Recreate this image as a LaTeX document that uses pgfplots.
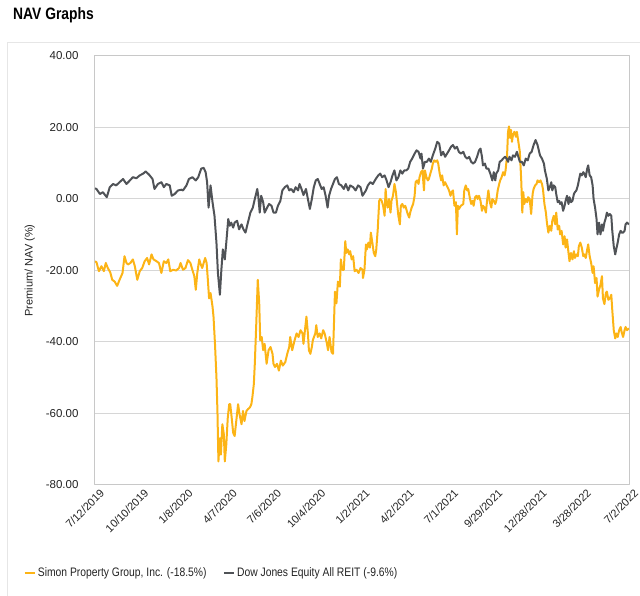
\documentclass[border=0pt]{standalone}
\usepackage{pgfplots}
\pgfplotsset{compat=1.18}
\usepackage{fontspec}
\setmainfont{Liberation Sans}
\newfontfamily\condfont{Liberation Sans}[FakeStretch=0.84]
\definecolor{spgold}{RGB}{252,180,22}
\definecolor{spgray}{RGB}{80,83,87}
\definecolor{gridc}{RGB}{214,214,214}
\definecolor{framec}{RGB}{200,200,200}
\definecolor{panelc}{RGB}{230,230,230}
\definecolor{txt}{RGB}{35,35,35}
\begin{document}
\begin{tikzpicture}
\useasboundingbox (0pt,0pt) rectangle (640pt,596pt);
\draw[panelc, line width=1pt] (7.5pt,0pt) -- (7.5pt,553pt) -- (640pt,553pt);
\node[anchor=base west, inner sep=0, font=\condfont\fontsize{16.5}{18}\selectfont\bfseries] at (13pt,576pt) {NAV Graphs};
\coordinate (O) at (95pt,111pt);
\begin{axis}[
  at={(O)}, anchor=south west,
  width=534pt, height=429pt, scale only axis,
  xmin=0, xmax=1086, ymin=-80, ymax=40,
  axis line style={framec, line width=1pt},
  ytick={-80,-60,-40,-20,0,20,40},
  ymajorgrids, grid style={gridc, line width=1pt},
  major tick length=0pt,
  /pgf/number format/assume math mode=true,
  yticklabel={\pgfmathprintnumber[fixed,fixed zerofill,precision=2]{\tick}},
  yticklabel style={font=\fontsize{11.5}{13}\selectfont, text=txt, xshift=-13pt},
  xtick={0,90,180,270,360,450,540,630,720,810,900,990,1086},
  xticklabels={7/12/2019,10/10/2019,1/8/2020,4/7/2020,7/6/2020,10/4/2020,1/2/2021,4/2/2021,7/1/2021,9/29/2021,12/28/2021,3/28/2022,7/2/2022},
  xticklabel style={font=\fontsize{11}{13}\selectfont, text=txt, rotate=45, anchor=north east, xshift=4pt, yshift=-2pt},
  ylabel={Premium/ NAV (\%)},
  every axis y label/.style={at={(axis description cs:-0.122,0.5)}, rotate=90, anchor=center, font=\fontsize{11}{13}\selectfont, text=txt},
  legend columns=2,
  legend style={at={(axis description cs:-0.140,-0.205)}, anchor=west, draw=none, fill=none,
    font=\condfont\fontsize{12.3}{14}\selectfont, text=txt,
    /tikz/every even column/.append style={column sep=14pt}},
  legend image code/.code={\draw[#1, line width=2.5pt] (0pt,0pt) -- (10pt,0pt);},
  line join=round,
]
\addplot[spgold, line width=2pt] coordinates {
(0,-17.4)(3,-17.7)(8,-20.2)(13,-18.8)(18,-20.2)(22,-17.9)(26,-19.3)(31,-20.5)(35,-22.6)(40,-23.1)(45,-24.3)(50,-22.6)(56,-20.7)(60,-16.0)(64,-17.9)(67,-18.3)(72,-17.9)(77,-16.9)(81,-18.8)(86,-22.6)(91,-20.2)(96,-19.3)(101,-17.4)(106,-16.5)(110,-18.3)(115,-15.5)(119,-16.9)(125,-17.4)(130,-17.9)(135,-20.7)(140,-17.4)(145,-17.9)(149,-16.9)(153,-20.2)(159,-19.8)(165,-20.0)(171,-19.3)(174,-17.9)(179,-19.8)
(184,-19.3)(189,-17.1)(194,-17.9)(198,-19.8)(202,-21.6)(205,-25.4)(208,-20.7)(212,-16.9)(214,-17.9)(218,-19.3)(221,-17.9)(224,-16.5)(227,-17.9)(229,-21.6)(232,-27.8)(235,-26.3)(239,-30.1)(241,-32.9)(244,-40.5)(247,-49.9)(249,-59.3)(251,-73.4)(254,-66.9)(256,-71.5)(259,-63.0)(262,-65.8)(264,-73.4)(267,-68.7)(270,-61.2)(273,-57.4)(275,-57.4)(278,-61.2)(281,-65.4)(284,-66.3)(288,-61.2)(291,-57.4)(294,-60.2)(298,-63.0)(301,-59.3)(304,-62.1)(308,-59.3)(311,-58.8)(315,-58.3)(318,-57.4)(320,-55.5)(323,-51.8)(325,-46.1)(328,-34.8)(331,-22.6)(334,-29.2)(336,-39.5)(339,-38.6)(342,-42.3)(345,-40.5)(349,-46.1)(353,-42.3)(357,-41.4)(361,-43.3)(363,-46.1)
(366,-47.0)(370,-46.1)(374,-48.0)(378,-45.2)(382,-46.6)(387,-45.6)(391,-43.3)(395,-41.4)(397,-38.6)(401,-42.3)(406,-39.5)(410,-37.6)(414,-38.6)(418,-36.7)(422,-37.6)(424,-40.5)(427,-36.7)(430,-32.9)(433,-37.6)(435,-42.3)(438,-43.3)(441,-41.4)(443,-39.5)(448,-37.6)(450,-35.3)(453,-38.6)(457,-37.6)(460,-39.0)(464,-36.7)(467,-37.6)(471,-40.0)(474,-42.3)(477,-38.6)(481,-42.8)(484,-43.3)(486,-34.8)(488,-25.9)(491,-29.2)(494,-23.1)(498,-24.5)(500,-16.9)(503,-19.8)(506,-19.8)(509,-11.8)(511,-15.1)(514,-14.1)(517,-15.5)(519,-14.6)(522,-16.9)(525,-16.0)(528,-20.2)(532,-19.8)(536,-20.7)(540,-19.3)(544,-19.8)
(545,-22.1)(548,-19.8)(551,-12.7)(553,-14.1)(556,-12.2)(559,-13.6)(561,-9.4)(564,-12.2)(567,-15.1)(570,-16.0)(572,-14.1)(575,-8.5)(578,-0.5)(580,0)(583,-0.5)(586,-1.9)(589,-4.7)(591,2.8)(593,-0.9)(595,-2.4)(598,0)(601,-3.8)(603,-0.5)(606,0.9)(609,4.2)(612,1.9)(614,-0.9)(617,-4.7)(620,-7.1)(622,-1.9)(625,-1.4)(628,-2.4)(631,-1.9)(633,-2.8)(636,-4.2)(639,-5.2)(641,-3.8)(644,-2.4)(647,-1.4)(650,0.9)(652,4.7)(655,5.2)(658,4.2)(660,6.1)(663,7.5)(666,8.0)(669,2.4)(671,8.0)(674,6.1)(677,5.2)(679,5.6)(682,7.1)(685,8.5)(687,9.9)(690,10.8)(693,10.4)(696,10.8)(698,9.9)(701,7.1)(704,5.2)(706,6.6)(709,3.8)(712,4.7)(715,3.8)(717,3.3)(720,2.4)(723,0.9)(725,1.9)(728,2.4)(731,-1.9)
(734,-0.9)(736,-9.9)(738,-1.9)(740,-2.8)(744,-1.9)(749,-1.4)(751,2.4)(754,3.8)(757,2.4)(759,2.8)(762,0.5)(765,-1.4)(768,-0.5)(770,-1.9)(773,0.5)(776,0.9)(778,0)(781,0.9)(784,-0.5)(787,-3.3)(789,-1.9)(792,-2.4)(795,-3.8)(797,-0.9)(800,2.4)(803,-0.9)(806,-2.4)(808,0)(811,-0.5)(814,-1.4)(816,-0.5)(819,2.4)(822,4.2)(824,5.2)(827,6.1)(830,7.5)(833,6.6)(835,8.0)(838,12.2)(840,18.8)(842,20.3)(844,17.1)(846,19.3)(848,16.0)(850,17.9)(853,18.8)(856,17.4)(858,18.8)(861,16.0)(864,13.2)(867,4.7)(869,-3.8)(871,1.9)(873,-1.4)(876,0)(879,-0.9)(881,0.5)(884,0)(887,-4.2)(890,1.4)(892,2.8)(895,3.8)(898,4.2)(900,5.2)(903,4.7)(906,5.2)(909,4.2)(911,2.8)(914,-1.4)
(917,-3.8)(919,-6.6)(922,-9.4)(925,-7.5)(928,-8.9)(930,-6.1)(933,-4.7)(936,-7.1)(938,-3.8)(941,-8.5)(944,-7.5)(946,-9.9)(949,-8.9)(952,-12.7)(955,-10.4)(957,-13.6)(960,-11.3)(963,-15.1)(965,-17.4)(968,-15.1)(971,-16.9)(974,-14.6)(976,-16.5)(979,-15.5)(982,-16.0)(984,-13.2)(987,-12.2)(990,-13.6)(993,-16.0)(995,-15.5)(998,-16.5)(1001,-14.1)(1003,-12.7)(1006,-16.0)(1009,-17.9)(1012,-20.7)(1014,-18.8)(1017,-23.5)(1020,-22.1)(1022,-27.3)(1025,-25.4)(1028,-24.0)(1031,-21.6)(1033,-27.8)(1036,-29.4)(1039,-26.3)(1041,-25.9)(1044,-28.2)(1047,-27.8)(1050,-26.8)(1052,-31.1)(1055,-36.7)(1058,-39.0)(1060,-37.6)(1063,-38.6)(1066,-36.7)(1069,-35.8)(1071,-37.2)(1074,-38.6)(1077,-36.7)(1079,-35.8)(1082,-36.7)(1086,-36.2)
};
\addlegendentry{Simon Property Group, Inc. (-18.5\%)}
\addplot[spgray, line width=2pt] coordinates {
(0,3.0)(3,2.8)(10,1.4)(16,1.9)(24,0.5)(30,3.3)(37,4.2)(43,3.8)(50,4.7)(57,5.6)(64,4.2)(71,5.2)(77,6.1)(84,5.8)(91,6.6)(98,7.1)(103,7.7)(110,6.8)(117,5.6)(121,2.8)(128,4.2)(135,4.7)(140,3.3)(145,4.2)(152,3.8)(156,0.9)(162,1.4)(169,2.4)(176,2.6)
(179,2.4)(186,3.8)(191,5.6)(198,6.1)(205,5.2)(210,6.1)(216,8.5)(221,8.7)(225,7.5)(228,4.7)(231,-2.4)(235,3.8)(239,-0.9)(243,-4.7)(247,-12.2)(250,-20.7)(254,-26.8)(257,-19.8)(260,-14.1)(264,-16.9)(267,-12.2)(271,-5.6)(274,-7.5)(277,-6.6)(281,-8.0)(284,-6.6)(289,-6.1)(293,-8.5)(298,-7.1)(302,-8.5)(306,-9.4)(311,-6.6)(316,-3.8)(321,-2.4)(325,0)(330,2.8)(332,0.9)(335,-3.8)(338,0.9)(342,-0.9)(345,-3.8)(350,-2.4)(354,-1.4)(359,-1.9)(363,-3.8)
(368,-3.8)(372,-1.9)(377,-0.5)(381,2.4)(386,3.3)(391,3.8)(395,2.4)(399,2.8)(404,1.9)(408,3.3)(413,2.4)(416,4.2)(420,2.8)(424,1.1)(429,2.8)(433,0)(437,-2.8)(441,0)(445,3.3)(449,5.2)(453,5.6)(457,4.2)(461,2.8)(465,3.3)(469,0.9)(473,-2.4)(476,0.9)(480,2.8)(484,4.2)(488,5.6)(492,6.1)(496,4.2)(501,3.8)(506,2.8)(510,4.2)(515,2.4)(519,3.8)(525,3.3)(530,2.4)(535,3.8)(540,3.3)(544,0.9)
(551,2.4)(555,3.8)(560,4.7)(565,4.2)(571,5.6)(576,6.6)(580,7.1)(584,6.1)(589,6.6)(593,5.2)(597,3.3)(601,4.7)(605,6.6)(609,8.0)(613,5.2)(617,6.1)(621,8.0)(625,7.1)(629,8.0)(633,8.0)(637,8.5)(641,10.4)(645,11.3)(650,12.7)(654,13.6)(658,13.2)(662,11.3)(664,12.7)(667,8.5)(671,10.4)(675,10.4)(679,11.3)(683,10.4)(687,12.2)(692,14.1)(696,16.0)(700,15.5)(704,12.2)(708,13.2)(712,11.8)(716,12.7)(720,13.6)(724,14.6)(728,15.1)
(732,14.1)(736,14.6)(740,13.2)(744,12.7)(749,13.2)(753,11.8)(757,11.3)(761,11.8)(765,10.4)(769,9.9)(773,10.4)(777,11.8)(781,13.6)(784,14.1)(787,11.8)(789,9.4)(793,9.9)(796,8.5)(800,8.5)(804,7.1)(808,5.2)(811,7.5)(814,5.2)(816,7.1)(820,8.0)(823,10.4)(827,10.8)(830,11.3)(834,11.8)(837,11.3)(840,10.4)(843,11.8)(847,10.8)(850,12.2)(854,11.8)(858,13.2)(861,11.8)(864,10.4)(868,10.4)(872,9.4)(876,11.3)(880,10.8)(884,12.7)(888,13.2)(892,15.1)(896,16.5)(900,15.1)(905,12.2)(909,11.3)(913,9.9)
(915,8.0)(919,5.6)(922,2.4)(925,3.3)(928,4.7)(930,2.4)(933,3.8)(936,3.3)(938,1.4)(941,-0.9)(944,-0.5)(946,-1.4)(949,-0.9)(952,-3.3)(955,-1.9)(957,-0.5)(960,0.9)(963,-1.4)(965,0.5)(968,-0.9)(971,-0.5)(974,1.4)(976,1.9)(979,2.4)(982,3.8)(984,5.2)(987,7.1)(990,6.6)(993,7.5)(995,7.1)(998,6.1)(1001,8.5)(1003,9.4)(1006,6.6)(1009,6.1)(1012,3.8)(1014,0)(1017,-2.4)(1020,-5.6)(1022,-9.9)(1025,-6.6)(1028,-9.9)(1031,-7.1)(1033,-8.9)(1036,-6.6)(1039,-5.2)(1041,-3.8)(1044,-4.7)(1047,-4.2)(1050,-4.7)(1052,-8.9)(1055,-13.2)(1058,-15.5)(1060,-14.1)(1063,-12.2)(1066,-9.9)(1069,-8.9)(1071,-9.4)(1074,-9.4)(1077,-8.9)(1079,-7.1)(1082,-6.6)(1086,-7.1)
};
\addlegendentry{Dow Jones Equity All REIT (-9.6\%)}
\end{axis}
\end{tikzpicture}
\end{document}
